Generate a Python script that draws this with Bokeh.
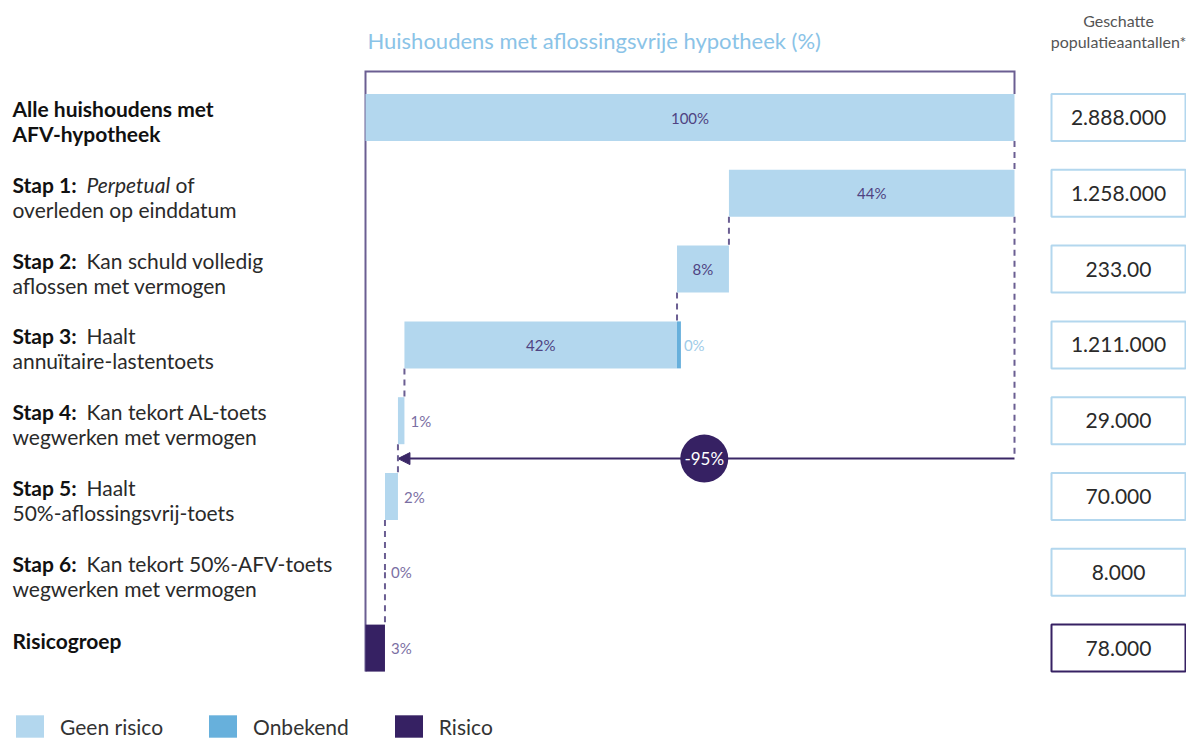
from bokeh.plotting import figure
from bokeh.models import Range1d, Arrow, NormalHead, Legend, LegendItem
from bokeh.core.properties import value
from bokeh.embed import file_html
from bokeh.resources import INLINE

# ---------------- data ----------------
label_bold = ["Alle huishoudens met", "Stap 1:", "Stap 2:", "Stap 3:", "Stap 4:",
              "Stap 5:", "Stap 6:", "Risicogroep"]
label_rest = ["", "", "Kan schuld volledig", "Haalt", "Kan tekort AL-toets", "Haalt",
              "Kan tekort 50%-AFV-toets", ""]
label_line2 = ["AFV-hypotheek", "overleden op einddatum", "aflossen met vermogen",
               "annuïtaire-lastentoets", "wegwerken met vermogen",
               "50%-aflossingsvrij-toets", "wegwerken met vermogen", ""]
step1_italic = "Perpetual"
step1_tail = "of"

pct_values = [100, 44, 8, 42, 1, 2, 0, 3]
pct_labels = ["100%", "44%", "8%", "42%", "1%", "2%", "0%", "3%"]
unknown_value = 0.6          # Onbekend sliver in stap 3 (gelabeld 0%)
unknown_label = "0%"
population = ["2.888.000", "1.258.000", "233.00", "1.211.000", "29.000",
              "70.000", "8.000", "78.000"]
drop_label = "-95%"
legend_labels = ["Geen risico", "Onbekend", "Risico"]
title_text = "Huishoudens met aflossingsvrije hypotheek (%)"
header_lines = ["Geschatte", "populatieaantallen*"]

# ---------------- colours / fonts ----------------
C_LIGHT = "#b3d7ee"
C_MID = "#67b0dc"
C_DARK = "#362163"
C_FRAME = "#6b5e92"
C_ARROW = "#3a2766"
C_INLBL = "#4f4382"
C_OUTLBL = "#7b6fa3"
FONT = value("Lato")

# ---------------- waterfall geometry ----------------
n = len(pct_values)
rows = list(range(n))
lefts, rights = [], []
remaining = 100
for i, v in enumerate(pct_values):
    if i == 0 or i == n - 1:
        lefts.append(0); rights.append(v)
    else:
        rights.append(remaining); lefts.append(remaining - v); remaining -= v

BAR_H = 0.62
HALF = BAR_H / 2

W, H = 1186, 740
p = figure(width=W, height=H, x_range=Range1d(-365 / 6.49, (W - 365) / 6.49),
           y_range=Range1d((H - 117) / 75.8, -117 / 75.8), output_backend="svg",
           toolbar_location=None, min_border=0, x_axis_location=None,
           y_axis_location=None, outline_line_color=None)
p.grid.visible = False

# frame bracket
p.line(x=[rights[0], rights[0], lefts[0], lefts[0]],
       y=[-HALF, -0.607, -0.607, (n - 1) + HALF],
       line_color=C_FRAME, line_width=2, line_join="miter")

# dashed connectors
def bottom(i):
    return i + HALF if pct_values[i] > 0 else i
def top(i):
    return i - HALF if pct_values[i] > 0 else i
x0s, y0s, x1s, y1s = [], [], [], []
for i in range(n - 1):
    x0s.append(rights[i + 1]); y0s.append(bottom(i))
    x1s.append(rights[i + 1]); y1s.append(top(i + 1))
arrow_y = 4.5
x0s.append(rights[1]); y0s.append(bottom(1)); x1s.append(rights[1]); y1s.append(arrow_y)
p.segment(x0=x0s, y0=y0s, x1=x1s, y1=y1s, line_color=C_FRAME, line_width=2,
          line_dash="6 5")

# arrow (beneath circle)
p.add_layout(Arrow(end=NormalHead(size=12, fill_color=C_ARROW, line_color=C_ARROW),
                   x_start=rights[1], y_start=arrow_y, x_end=lefts[4], y_end=arrow_y,
                   line_color=C_ARROW, line_width=2, level="underlay"))

# bars
light_idx = [i for i in range(n - 1) if pct_values[i] > 0]
r_light = p.hbar(y=[rows[i] for i in light_idx], left=[lefts[i] for i in light_idx],
                 right=[rights[i] for i in light_idx], height=BAR_H,
                 fill_color=C_LIGHT, line_color=None)
r_mid = p.hbar(y=[3], left=[rights[3]], right=[rights[3] + unknown_value],
               height=BAR_H, fill_color=C_MID, line_color=None)
r_dark = p.hbar(y=[n - 1], left=[lefts[n - 1]], right=[rights[n - 1]], height=BAR_H,
                fill_color=C_DARK, line_color=None)

# bar labels
inside = [i for i in range(n) if pct_values[i] >= 5 and i != n - 1]
outside = [i for i in range(n) if i not in inside]
p.text(x=[(lefts[i] + rights[i]) / 2 for i in inside], y=[rows[i] for i in inside],
       text=[pct_labels[i] for i in inside], text_align="center",
       text_baseline="middle", text_font=FONT, text_font_size="15px",
       text_color=C_INLBL)
p.text(x=[rights[i] for i in outside], y=[rows[i] for i in outside],
       text=[pct_labels[i] for i in outside], text_align="left",
       text_baseline="middle", text_font=FONT, text_font_size="15px",
       text_color=C_OUTLBL, x_offset=6)
p.text(x=[rights[3] + unknown_value], y=[3], text=[unknown_label], text_align="left",
       text_baseline="middle", text_font=FONT, text_font_size="15px",
       text_color="#9fcbe8", x_offset=3)

# circle with total drop
p.scatter(x=[52.2], y=[arrow_y], size=48, marker="circle", fill_color=C_DARK,
          line_color=None)
p.text(x=[52.2], y=[arrow_y], text=[drop_label], text_align="center",
       text_baseline="middle", text_font=FONT, text_font_size="17px",
       text_color="white")

# left labels
LBL_X = (12 - 365) / 6.49
REST_X = (86 - 365) / 6.49
TAIL_X = (175 - 365) / 6.49
L1 = -0.118
L2 = 0.212
FS = "21px"
bold_y = [r + L1 if label_line2[r] else r - 0.105 for r in rows]
p.text(x=[LBL_X] * n, y=bold_y, text=label_bold, text_baseline="middle",
       text_font=FONT, text_font_size=FS, text_font_style="bold",
       text_color="#111111")
p.text(x=[LBL_X], y=[0 + L2], text=[label_line2[0]], text_baseline="middle",
       text_font=FONT, text_font_size=FS, text_font_style="bold",
       text_color="#111111")
rest_rows = [r for r in rows if label_rest[r]]
p.text(x=[REST_X] * len(rest_rows), y=[r + L1 for r in rest_rows],
       text=[label_rest[r] for r in rest_rows], text_baseline="middle",
       text_font=FONT, text_font_size=FS, text_color="#2a2a2a")
p.text(x=[REST_X], y=[1 + L1], text=[step1_italic], text_baseline="middle",
       text_font=FONT, text_font_size=FS, text_font_style="italic",
       text_color="#2a2a2a")
p.text(x=[TAIL_X], y=[1 + L1], text=[step1_tail], text_baseline="middle",
       text_font=FONT, text_font_size=FS, text_color="#2a2a2a")
l2_rows = [r for r in rows if r > 0 and label_line2[r]]
p.text(x=[LBL_X] * len(l2_rows), y=[r + L2 for r in l2_rows],
       text=[label_line2[r] for r in l2_rows], text_baseline="middle",
       text_font=FONT, text_font_size=FS, text_color="#2a2a2a")

# population boxes
BOX_L, BOX_R = (1051 - 365) / 6.49, (1185 - 365) / 6.49
box_colors = [C_LIGHT] * (n - 1) + [C_DARK]
p.hbar(y=rows, left=BOX_L, right=BOX_R, height=BAR_H, fill_color="white",
       line_color=box_colors, line_width=2)
p.text(x=[(BOX_L + BOX_R) / 2] * n, y=rows, text=population, text_align="center",
       text_baseline="middle", text_font=FONT, text_font_size="21px",
       text_color="#2a2a2a")

# header texts
p.text(x=[0.3], y=[(40 - 117) / 75.8], text=[title_text], text_baseline="middle",
       text_font=FONT, text_font_size="22px", text_color="#8ac3e7")
p.text(x=[(BOX_L + BOX_R) / 2] * 2, y=[(20 - 117) / 75.8, (41 - 117) / 75.8],
       text=header_lines, text_align="center", text_baseline="middle",
       text_font=FONT, text_font_size="16px", text_color="#555555")

# legend
legend = Legend(items=[LegendItem(label=legend_labels[0], renderers=[r_light]),
                       LegendItem(label=legend_labels[1], renderers=[r_mid]),
                       LegendItem(label=legend_labels[2], renderers=[r_dark])],
                orientation="horizontal", location=(12, 0), glyph_width=35,
                glyph_height=28, label_standoff=13, spacing=42, padding=0,
                margin=0, border_line_color=None, background_fill_alpha=0,
                label_text_font="Lato", label_text_font_size="21px",
                label_text_color="#333333")
p.add_layout(legend)

open("out.html", "w").write(file_html(p, INLINE))
